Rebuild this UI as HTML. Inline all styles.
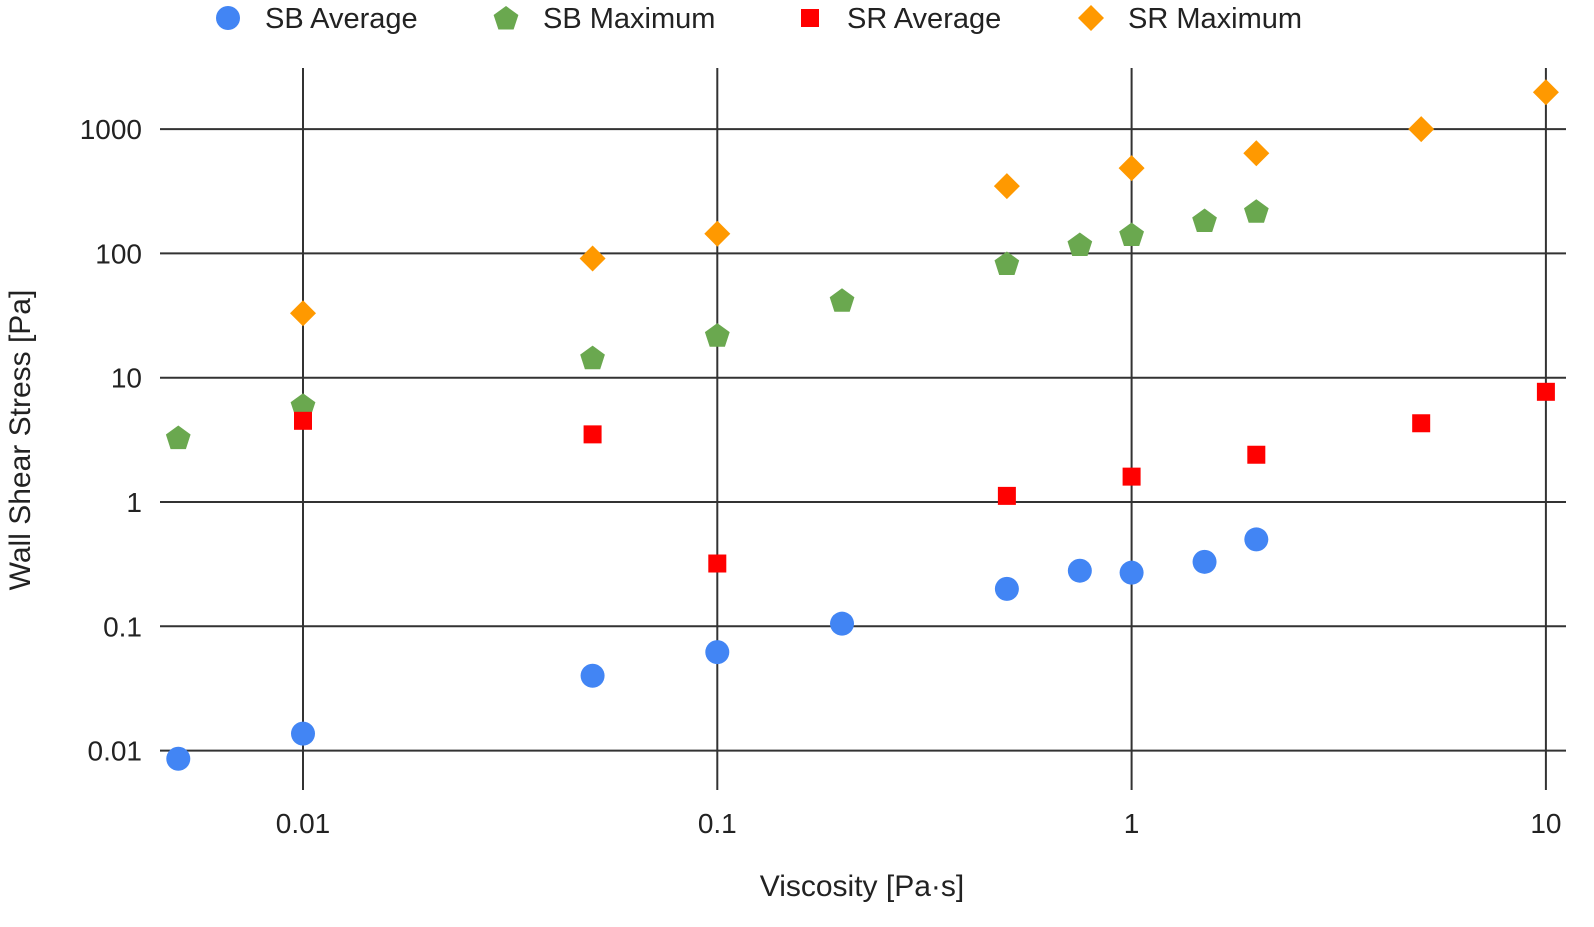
<!DOCTYPE html>
<html><head><meta charset="utf-8"><style>
body{margin:0;background:#fff;}
svg text{font-family:"Liberation Sans",sans-serif;fill:#222;}
</style></head><body>
<svg id="chart" width="1594" height="922" xmlns="http://www.w3.org/2000/svg">
<g id="grid"></g>
<g id="marks"></g>
<g id="legend"></g>
<text x="862" y="896" font-size="30" text-anchor="middle">Viscosity [Pa·s]</text>
<text transform="translate(30,440) rotate(-90)" font-size="30" text-anchor="middle">Wall Shear Stress [Pa]</text>
</svg>
<script>
const xTicks=[0.01,0.1,1,10];
const xTickLabels=["0.01","0.1","1","10"];
const yTicks=[0.01,0.1,1,10,100,1000];
const yTickLabels=["0.01","0.1","1","10","100","1000"];
const sbAvgX=[0.005,0.01,0.05,0.1,0.2,0.5,0.75,1,1.5,2];
const sbAvgY=[0.0086,0.0137,0.04,0.062,0.105,0.2,0.28,0.27,0.33,0.5];
const sbMaxX=[0.005,0.01,0.05,0.1,0.2,0.5,0.75,1,1.5,2];
const sbMaxY=[3.3,6,14.5,22,42,83,118,142,184,218];
const srAvgX=[0.01,0.05,0.1,0.5,1,2,5,10];
const srAvgY=[4.5,3.5,0.32,1.12,1.6,2.4,4.3,7.7];
const srMaxX=[0.01,0.05,0.1,0.5,1,2,5,10];
const srMaxY=[33,91,144,348,485,640,1000,1980];
const NS="http://www.w3.org/2000/svg";
function xs(v){return 303+414.3*Math.log10(v/0.01);}
function ys(v){return 502-124.3*Math.log10(v);}
function mk(tag,attrs,parent){const e=document.createElementNS(NS,tag);for(const k in attrs)e.setAttribute(k,attrs[k]);parent.appendChild(e);return e;}
const grid=document.getElementById('grid'),marks=document.getElementById('marks'),legend=document.getElementById('legend');
yTicks.forEach((t,i)=>{
 const l=mk('line',{x1:160,x2:1566,y1:ys(t),y2:ys(t),stroke:'#333','stroke-width':2},grid);
 
 
 const tx=mk('text',{x:142,y:ys(t)+10,'font-size':28,'text-anchor':'end'},grid);
 tx.textContent=yTickLabels[i];
 
 
});
xTicks.forEach((t,i)=>{
 const l=mk('line',{x1:xs(t),x2:xs(t),y1:68,y2:790,stroke:'#333','stroke-width':2},grid);
 
 
 const tx=mk('text',{x:xs(t),y:833,'font-size':28,'text-anchor':'middle'},grid);
 tx.textContent=xTickLabels[i];
 
 
});
function pent(cx,cy,r){let p=[];for(let k=0;k<5;k++){const a=-Math.PI/2+k*2*Math.PI/5;p.push((cx+r*Math.cos(a)).toFixed(1)+','+(cy+r*Math.sin(a)).toFixed(1));}return p.join(' ');}
function shape(type,cx,cy,parent){
 if(type==='circle')return mk('circle',{cx:cx,cy:cy,r:12,fill:'#4285f4'},parent);
 if(type==='pent')return mk('polygon',{points:pent(cx,cy+1,13),fill:'#6aa84f'},parent);
 if(type==='square')return mk('rect',{x:cx-9,y:cy-9,width:18,height:18,fill:'#ff0000'},parent);
 return mk('polygon',{points:`${cx},${cy-13} ${cx+13},${cy} ${cx},${cy+13} ${cx-13},${cy}`,fill:'#ff9900'},parent);
}
const series=[[sbAvgX,sbAvgY,'circle','sb-average-point'],[sbMaxX,sbMaxY,'pent','sb-maximum-point'],[srAvgX,srAvgY,'square','sr-average-point'],[srMaxX,srMaxY,'diamond','sr-maximum-point']];
series.forEach(s=>{s[0].forEach((x,i)=>{const e=shape(s[2],xs(x),ys(s[1][i]),marks);
 
 });});
const leg=[['circle','SB Average',228],['pent','SB Maximum',506],['square','SR Average',810],['diamond','SR Maximum',1091]];
leg.forEach(l=>{
 const g=mk('g',{},legend);
 
 
 shape(l[0],l[2],18,g);
 const t=mk('text',{x:l[2]+37,y:28,'font-size':29},g);t.textContent=l[1];
});
</script>
</body></html>
